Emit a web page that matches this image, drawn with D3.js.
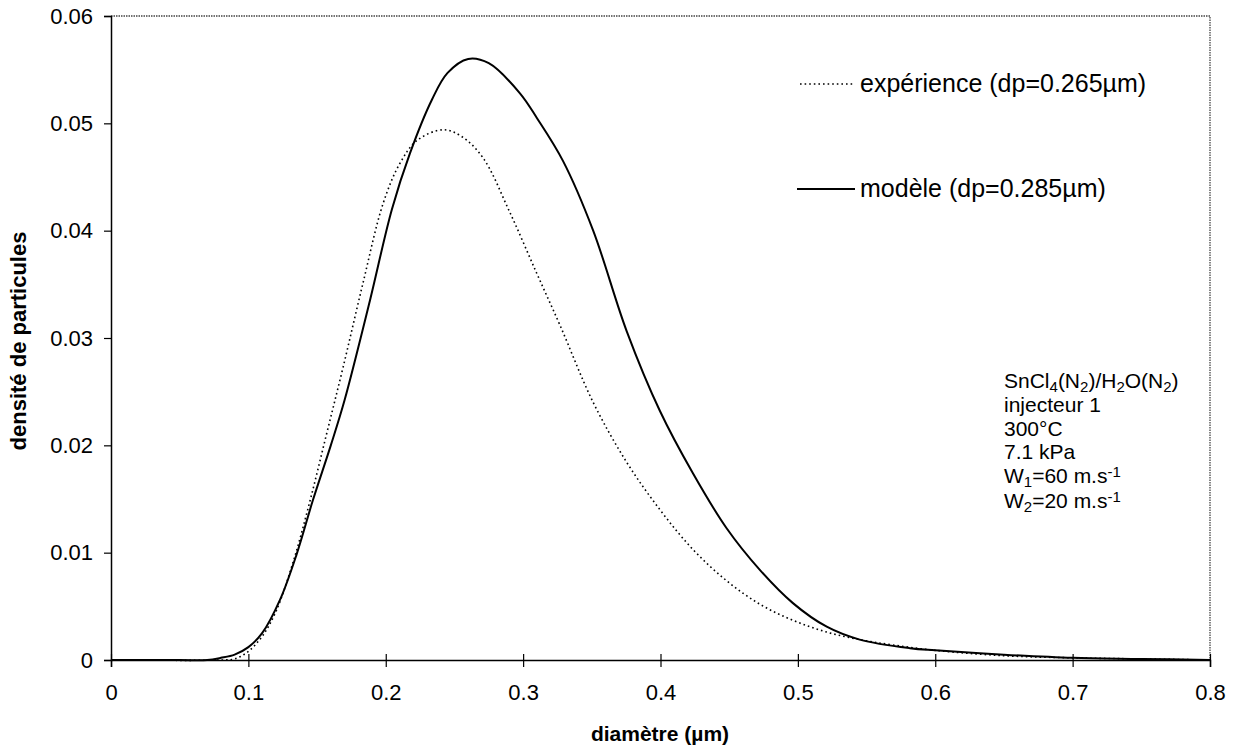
<!DOCTYPE html>
<html><head><meta charset="utf-8">
<script src="https://cdn.jsdelivr.net/npm/d3@7"></script>
<style>body{margin:0;background:#fff}svg{display:block;font-family:"Liberation Sans",Arial,sans-serif}</style>
</head><body><svg id="c" width="1238" height="751"></svg>
<script>
const xTicks = [0,0.1,0.2,0.3,0.4,0.5,0.6,0.7,0.8];
const yTicks = [0,0.01,0.02,0.03,0.04,0.05,0.06];
const modelX = [0,0.05,0.07,0.08,0.09,0.1,0.11,0.123,0.135,0.147,0.16,0.17,0.1885,0.2045,0.2176,0.2336,0.245,0.26,0.275,0.2977,0.31,0.329,0.351,0.3755,0.3996,0.4236,0.448,0.4723,0.4964,0.521,0.545,0.5815,0.6,0.65,0.7,0.75,0.8];
const modelY = [0,0,0,0.0002,0.0005,0.0012,0.0025,0.0056,0.0098,0.0149,0.0200,0.0242,0.0335,0.0420,0.0472,0.0522,0.0547,0.0560,0.0556,0.0528,0.0505,0.0465,0.0400,0.0306,0.0232,0.0174,0.0123,0.0084,0.0053,0.0031,0.0019,0.0011,0.0009,0.0005,0.0002,0.0001,0.0];
const expX = [0,0.08,0.09,0.1,0.11,0.12,0.133,0.145,0.157,0.169,0.1834,0.198,0.21,0.2227,0.2416,0.255,0.2707,0.290,0.310,0.3268,0.351,0.3755,0.3996,0.4236,0.448,0.4723,0.4964,0.521,0.545,0.569,0.6,0.65,0.7,0.75,0.8];
const expY = [0,0,0.0001,0.0008,0.0022,0.0045,0.0093,0.0149,0.0211,0.0273,0.0351,0.0425,0.0462,0.0484,0.0494,0.0488,0.0468,0.0418,0.0360,0.0312,0.0240,0.0184,0.0140,0.0103,0.0074,0.0052,0.0037,0.0026,0.0019,0.0014,0.0009,0.0004,0.0002,0.0001,0];
const legendLabels = ["expérience (dp=0.265µm)","modèle (dp=0.285µm)"];

const svg = d3.select("#c");
const L=111, R=1210, T=16, B=660;
const x = d3.scaleLinear().domain([0,0.8]).range([L,R]);
const y = d3.scaleLinear().domain([0,0.06]).range([B,T]);

svg.append("path").attr("d",`M${L},${T}H${R}V${B}`).attr("fill","none")
  .attr("stroke","#444").attr("stroke-width",1.3).attr("stroke-dasharray","1.5,1");

const xa = svg.append("g").attr("transform",`translate(0,${B})`)
  .call(d3.axisBottom(x).tickValues(xTicks).tickFormat(d=>d===0?"0":d3.format(".1f")(d)).tickSize(7).tickPadding(17));
xa.selectAll(".tick line").attr("y1",-6).attr("y2",7);
const ya = svg.append("g").attr("transform",`translate(${L},0)`)
  .call(d3.axisLeft(y).tickValues(yTicks).tickFormat(d=>d===0?"0":d3.format(".2f")(d)).tickSize(7).tickPadding(11));
[xa,ya].forEach(a=>{
  a.attr("font-size",22).attr("font-family","Liberation Sans, Arial, sans-serif");
  a.select(".domain").attr("stroke","#000").attr("stroke-width",1.5);
  a.selectAll(".tick line").attr("stroke","#000").attr("stroke-width",1.2);
  a.selectAll("text").attr("fill","#000");
});

const line = d3.line().x(d=>x(d[0])).y(d=>y(d[1])).curve(d3.curveCatmullRom.alpha(0.5));
svg.append("path").datum(expX.map((v,i)=>[v,expY[i]])).attr("d",line)
  .attr("fill","none").attr("stroke","#000").attr("stroke-width",1.6).attr("stroke-dasharray","1.6,3");
svg.append("path").datum(modelX.map((v,i)=>[v,modelY[i]])).attr("d",line)
  .attr("fill","none").attr("stroke","#000").attr("stroke-width",2);

// legend
svg.append("line").attr("x1",800).attr("x2",855).attr("y1",84).attr("y2",84)
  .attr("stroke","#000").attr("stroke-width",1.6).attr("stroke-dasharray","1.6,3");
svg.append("line").attr("x1",797).attr("x2",855).attr("y1",189).attr("y2",189)
  .attr("stroke","#000").attr("stroke-width",2);
svg.append("text").attr("x",860).attr("y",92).attr("font-size",25).text(legendLabels[0]);
svg.append("text").attr("x",860).attr("y",197).attr("font-size",25).text(legendLabels[1]);

const ann = svg.append("g").attr("font-size",21);
function addLine(yy, parts){
  const t = ann.append("text").attr("x",1004).attr("y",yy);
  parts.forEach(p=>{
    const s = t.append("tspan").text(p[0]);
    if(p[1]==="sub") s.attr("baseline-shift","-25%").attr("font-size",15);
    else if(p[1]==="sup") s.attr("baseline-shift","40%").attr("font-size",15);
  });
}
addLine(388,[["SnCl"],["4","sub"],["(N"],["2","sub"],[")/H"],["2","sub"],["O(N"],["2","sub"],[")"]]);
addLine(412,[["injecteur 1"]]);
addLine(436,[["300°C"]]);
addLine(459,[["7.1 kPa"]]);
addLine(483,[["W"],["1","sub"],["=60 m.s"],["-1","sup"]]);
addLine(508,[["W"],["2","sub"],["=20 m.s"],["-1","sup"]]);

svg.append("text").attr("x",660).attr("y",741).attr("text-anchor","middle")
  .attr("font-size",21).attr("font-weight","bold").text("diamètre (µm)");
svg.append("text").attr("transform","translate(26,341) rotate(-90)").attr("text-anchor","middle")
  .attr("font-size",22).attr("font-weight","bold").text("densité de particules");
</script></body></html>
